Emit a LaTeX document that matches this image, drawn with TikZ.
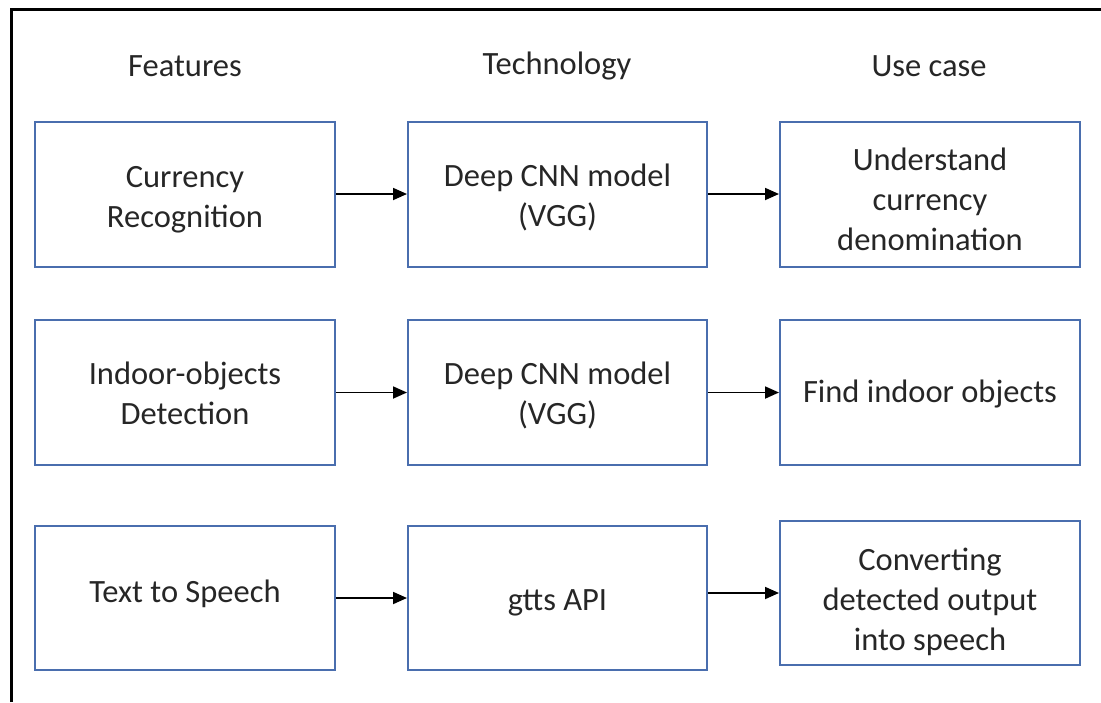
\documentclass[tikz,border=0pt]{standalone}
\usepackage{fontspec}
\setmainfont{Carlito}
\usetikzlibrary{arrows.meta}
\definecolor{boxblue}{HTML}{4A6EAE}
\definecolor{txt}{HTML}{262626}
\newcommand{\lines}[2]{\raisebox{#1}[\height][\depth]{\begin{tabular}{@{}c@{}}#2\end{tabular}}}
\tikzset{
  box/.style={draw=boxblue, line width=2pt, minimum width=300pt, minimum height=145pt,
    align=center, text=txt, font=\fontsize{32.5}{40}\selectfont, inner sep=0pt},
  head/.style={text=txt, font=\fontsize{32.5}{40}\selectfont, inner sep=0pt},
  conn/.style={line width=1.8pt, -{Triangle[length=14pt,width=12pt]}},
  frame/.style={line width=3pt, black}
}
\begin{document}
\begin{tikzpicture}[x=1pt,y=-1pt]
\useasboundingbox (0,0) rectangle (1101,702);
\coordinate (fa) at (11,702);
\coordinate (fb) at (11,9);
\coordinate (fc) at (1101,9);
\draw[frame] (fa) -- (fb) -- (fc);
\node[head] (h1) at (185,66) {Features};
\node[head] (h2) at (557,66) {Technology};
\node[head] (h3) at (929,66) {Use case};
\node[box] (a1) at (185,194) {\lines{-5pt}{Currency\\Recognition}};
\node[box, minimum width=299pt] (b1) at (557.5,194) {\lines{-4pt}{Deep CNN model\\(VGG)}};
\node[box] (c1) at (930,194) {\lines{-8pt}{Understand\\currency\\denomination}};
\node[box] (a2) at (185,392.5) {\lines{-4pt}{Indoor-objects\\Detection}};
\node[box, minimum width=299pt] (b2) at (557.5,392.5) {\lines{-4pt}{Deep CNN model\\(VGG)}};
\node[box] (c2) at (930,392.5) {\lines{-2pt}{Find indoor objects}};
\node[box, minimum height=144pt] (a3) at (185,598) {\lines{4pt}{Text to Speech}};
\node[box, minimum width=299pt, minimum height=144pt] (b3) at (557.5,598) {\lines{-4pt}{gtts API}};
\node[box, minimum height=144pt] (c3) at (930,593) {\lines{-9pt}{Converting\\detected output\\into speech}};
\draw[conn] (a1) -- (b1);
\draw[conn] (b1) -- (c1);
\draw[conn] (a2) -- (b2);
\draw[conn] (b2) -- (c2);
\draw[conn] (a3) -- (b3);
\draw[conn] (b3.east |- c3.west) -- (c3.west);
\end{tikzpicture}
\end{document}
